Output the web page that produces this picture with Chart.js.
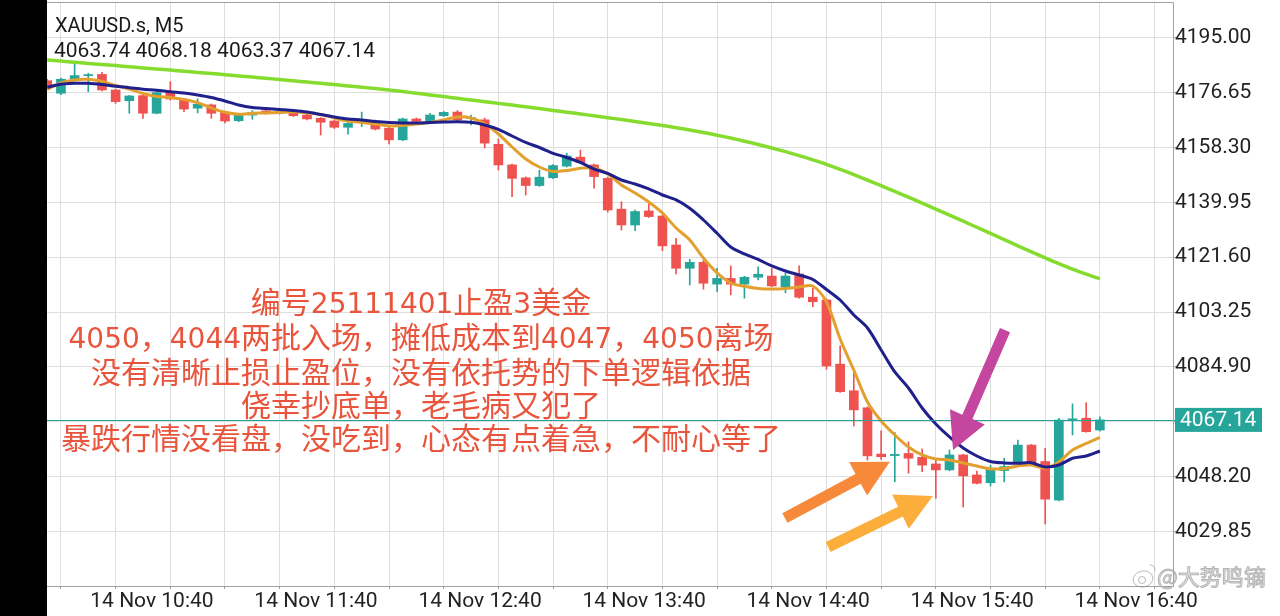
<!DOCTYPE html>
<html><head><meta charset="utf-8">
<script src="https://cdn.jsdelivr.net/npm/chart.js@4.4.1/dist/chart.umd.min.js"></script>
<style>html,body{margin:0;padding:0;background:#fff;overflow:hidden}#wrap{position:relative;width:1280px;height:616px}</style>
</head><body><div id="wrap"><canvas id="c" width="1280" height="616"></canvas></div>
<script>
const symbolTitle = 'XAUUSD.s, M5';
const firstCandleMinute = 605;   // 14 Nov 10:05
const barMinutes = 5;

const opens = [4180.7,4176.5,4181.4,4182.4,4182.8,4177.6,4174.0,4175.7,4169.8,4177.0,
4174.2,4171.5,4172.6,4170.0,4167.3,4169.2,4170.6,4169.8,4170.0,4169.2,
4168.1,4167.2,4165.1,4166.9,4167.2,4164.8,4160.9,4167.9,4167.0,4169.0,
4170.2,4168.0,4167.6,4159.4,4152.5,4148.2,4145.6,4148.2,4152.1,4155.1,
4152.5,4148.0,4137.7,4132.4,4137.1,4135.4,4125.7,4117.9,4119.9,4112.6,
4114.5,4112.6,4114.9,4115.3,4111.7,4116.0,4108.2,4107.3,4085.8,4076.9,
4071.2,4055.7,4055.2,4055.9,4054.6,4052.4,4050.4,4055.4,4048.7,4046.1,
4050.2,4052.8,4058.7,4053.2,4040.3,4067.0,4067.7,4063.74];
const highs = [4181.2,4181.6,4186.3,4183.2,4183.5,4177.9,4175.8,4176.0,4177.0,4180.4,
4174.6,4174.6,4172.9,4170.3,4169.4,4170.7,4170.9,4170.7,4170.3,4169.5,
4168.4,4167.5,4166.9,4170.2,4167.5,4165.1,4168.2,4168.2,4169.8,4170.4,
4170.7,4169.2,4168.2,4161.2,4152.8,4148.5,4150.8,4152.6,4156.4,4157.5,
4152.8,4148.4,4140.2,4137.4,4140.2,4135.7,4127.9,4120.9,4120.5,4117.9,
4118.7,4115.2,4118.4,4117.9,4116.3,4118.7,4111.2,4107.6,4091.9,4083.3,
4071.5,4063.5,4062.9,4059.8,4057.4,4054.3,4057.1,4055.7,4050.0,4052.0,
4054.3,4060.4,4059.0,4057.6,4067.7,4072.5,4072.9,4068.18];
const lows = [4177.9,4176.0,4180.9,4177.0,4177.3,4173.1,4169.8,4168.1,4169.6,4174.2,
4170.3,4169.9,4168.1,4166.6,4167.0,4167.8,4169.5,4169.5,4168.7,4167.6,
4162.5,4164.7,4162.8,4165.3,4164.2,4159.5,4160.6,4166.8,4166.7,4168.7,
4167.3,4165.9,4158.2,4150.8,4141.9,4142.4,4145.3,4147.9,4151.8,4153.0,
4144.7,4136.7,4130.7,4130.5,4134.9,4123.8,4116.0,4112.3,4110.9,4110.1,
4109.0,4107.9,4114.0,4111.7,4109.7,4107.9,4105.0,4084.1,4076.3,4065.1,
4053.7,4053.9,4046.4,4049.3,4049.8,4040.9,4050.1,4038.0,4045.7,4045.0,
4046.4,4052.5,4052.5,4032.3,4040.0,4062.1,4063.0,4063.37];
const closes = [4178.5,4181.2,4182.4,4182.7,4177.6,4173.7,4175.6,4169.8,4176.7,4174.6,
4171.2,4172.8,4169.8,4167.2,4169.1,4170.0,4169.8,4170.4,4169.0,4167.9,
4166.8,4165.1,4166.4,4167.2,4164.5,4160.9,4167.9,4167.1,4169.2,4170.1,
4167.6,4168.3,4159.8,4152.5,4148.0,4145.6,4148.4,4152.3,4155.5,4153.3,
4148.6,4137.4,4132.4,4136.9,4135.2,4125.4,4117.9,4119.9,4112.9,4114.5,
4112.6,4114.9,4115.9,4112.0,4115.3,4108.2,4106.7,4085.2,4076.6,4070.5,
4055.1,4054.8,4055.6,4054.3,4052.0,4050.4,4055.4,4048.4,4045.9,4051.0,
4051.5,4058.7,4052.8,4040.6,4067.1,4067.5,4063.2,4067.14];

const maFast = [4177.83,4179.93,4180.94,4181.17,4180.44,4179.10,4177.93,4176.42,4175.42,4175.08,
4174.41,4173.34,4171.57,4170.13,4169.46,4169.79,4169.89,4170.06,4170.33,4169.89,
4169.39,4168.22,4167.21,4166.71,4166.21,4165.54,4165.77,4166.21,4166.71,4167.55,
4168.55,4168.22,4166.21,4162.86,4158.51,4154.49,4151.81,4150.31,4150.64,4151.38,
4151.48,4149.47,4145.79,4143.11,4140.10,4136.41,4131.39,4127.37,4121.35,4116.33,
4112.98,4111.87,4111.14,4110.97,4111.14,4111.64,4111.97,4106.62,4094.23,4083.85,
4073.14,4066.78,4062.09,4058.07,4055.40,4054.06,4053.72,4052.72,4051.71,4050.71,
4050.88,4051.71,4052.05,4051.04,4053.05,4057.07,4059.25,4061.25];
const maMid = [4178.50,4179.53,4179.83,4179.83,4179.43,4178.83,4178.36,4177.83,4177.49,4176.99,
4176.59,4175.92,4175.08,4173.91,4172.57,4171.73,4171.40,4171.06,4170.73,4170.23,
4169.39,4168.55,4167.88,4167.55,4167.05,4166.71,4166.54,4166.54,4166.71,4166.88,
4166.98,4166.78,4165.87,4164.37,4162.19,4160.02,4158.34,4156.40,4154.99,4153.32,
4151.14,4149.64,4147.46,4146.12,4144.45,4142.44,4140.77,4137.99,4134.07,4129.62,
4125.03,4122.69,4120.85,4118.67,4117.00,4115.66,4114.15,4110.80,4107.29,4102.27,
4097.91,4090.55,4083.18,4077.83,4071.13,4065.77,4061.42,4057.74,4055.06,4053.22,
4052.72,4052.62,4052.82,4051.38,4052.05,4054.29,4055.06,4056.73];
const maSlow = [4187.63,4187.27,4186.86,4186.50,4186.13,4185.76,4185.36,4184.99,4184.62,4184.25,
4183.85,4183.48,4183.12,4182.71,4182.31,4181.91,4181.51,4181.11,4180.67,4180.27,
4179.83,4179.40,4178.96,4178.53,4178.06,4177.59,4177.06,4176.52,4175.95,4175.38,
4174.81,4174.24,4173.67,4173.11,4172.54,4171.97,4171.36,4170.76,4170.16,4169.56,
4168.95,4168.32,4167.68,4167.05,4166.38,4165.71,4164.97,4164.20,4163.36,4162.46,
4161.49,4160.45,4159.35,4158.17,4156.94,4155.63,4154.22,4152.72,4151.04,4149.27,
4147.43,4145.55,4143.64,4141.70,4139.73,4137.72,4135.71,4133.67,4131.63,4129.58,
4127.51,4125.43,4123.39,4121.38,4119.44,4117.60,4115.92,4114.38];

const yTicks = [4195.00,4176.65,4158.30,4139.95,4121.60,4103.25,4084.90,4066.55,4048.20,4029.85];
const timeLabels = ['14 Nov 10:40','14 Nov 11:40','14 Nov 12:40','14 Nov 13:40','14 Nov 14:40','14 Nov 15:40','14 Nov 16:40'];
const firstLabelMinute = 640;

const notes = [
  {text:'编号25111401止盈3美金', x:741.7, y:4106.6},
  {text:'4050，4044两批入场，摊低成本到4047，4050离场', x:741.7, y:4094.9},
  {text:'没有清晰止损止盈位，没有依托势的下单逻辑依据', x:741.7, y:4083.2},
  {text:'侥幸抄底单，老毛病又犯了', x:741.7, y:4072.1},
  {text:'暴跌行情没看盘，没吃到，心态有点着急，不耐心等了', x:741.7, y:4061.1}
];
const arrows = [
  {from:[955.3,4097.2], to:[936.3,4057.1], color:'#c4469e'},
  {from:[874.8,4034.3], to:[913.2,4053.1], color:'#f68a3a'},
  {from:[890.6,4024.6], to:[928.9,4041.7], color:'#fbae3c'}
];
const watermark = '@大势鸣镝';

const BULL = '#26a69a', BEAR = '#ef5350';
const xs = opens.map((_, i) => firstCandleMinute + i * barMinutes);
const last = closes.length - 1;
const header = opens[last].toFixed(2)+' '+highs[last].toFixed(2)+' '+lows[last].toFixed(2)+' '+closes[last].toFixed(2);
const colorOf = i => closes[i] >= opens[i] ? BULL : BEAR;

function drawArrow(ctx, x1, y1, x2, y2, shaft, headLen, headW, color){
  const dx=x2-x1, dy=y2-y1, len=Math.hypot(dx,dy), ux=dx/len, uy=dy/len, px=-uy, py=ux;
  const bx=x2-ux*headLen, by=y2-uy*headLen;
  ctx.fillStyle=color;
  ctx.beginPath();
  ctx.moveTo(x1+px*shaft/2, y1+py*shaft/2);
  ctx.lineTo(bx+px*shaft/2, by+py*shaft/2);
  ctx.lineTo(bx+px*headW/2, by+py*headW/2);
  ctx.lineTo(x2, y2);
  ctx.lineTo(bx-px*headW/2, by-py*headW/2);
  ctx.lineTo(bx-px*shaft/2, by-py*shaft/2);
  ctx.lineTo(x1-px*shaft/2, y1-py*shaft/2);
  ctx.closePath(); ctx.fill();
}

const LATIN_FONT = '28px "DejaVu Sans"', CJK_FONT = '30px "Noto Sans CJK SC"';
function drawMixed(ctx, text, cx, cy){
  const runs = text.match(/[\x20-\x7e]+|[^\x20-\x7e]+/g);
  const parts = runs.map(r => {
    const f = /^[\x20-\x7e]/.test(r) ? LATIN_FONT : CJK_FONT;
    ctx.font = f; return {r, f, w: ctx.measureText(r).width};
  });
  const total = parts.reduce((s,p)=>s+p.w, 0);
  let x = cx - total/2;
  ctx.textAlign='left'; ctx.textBaseline='alphabetic';
  parts.forEach(p => { ctx.font=p.f; ctx.fillText(p.r, x, cy+11); x += p.w; });
}

const chrome = {
  id:'chrome',
  beforeDraw(chart){
    const {ctx, chartArea:a} = chart;
    ctx.save();
    ctx.fillStyle='#fff'; ctx.fillRect(0,0,chart.width,chart.height);
    ctx.fillStyle='#000'; ctx.fillRect(0,0,a.left,chart.height);
    ctx.restore();
  },
  afterDatasetsDraw(chart){
    const {ctx, chartArea:a, scales} = chart;
    const y = Math.round(scales.y.getPixelForValue(closes[last])) + 0.5;
    ctx.save();
    ctx.strokeStyle=BULL; ctx.lineWidth=1;
    ctx.beginPath(); ctx.moveTo(a.left,y); ctx.lineTo(a.right+2,y); ctx.stroke();
    ctx.restore();
  },
  afterDraw(chart){
    const {ctx, chartArea:a, scales} = chart;
    const X = v => scales.x.getPixelForValue(v), Y = v => scales.y.getPixelForValue(v);
    ctx.save();
    // frame
    ctx.strokeStyle='#a0a0a0'; ctx.lineWidth=1;
    ctx.beginPath();
    ctx.moveTo(a.left, a.top+0.5); ctx.lineTo(a.right+0.5, a.top+0.5);
    ctx.lineTo(a.right+0.5, a.bottom+0.5); ctx.lineTo(a.left, a.bottom+0.5);
    ctx.stroke();
    // price box
    const py = Y(closes[last]);
    ctx.fillStyle=BULL; ctx.fillRect(a.right+2, py-12, 87, 24);
    ctx.fillStyle='#fff'; ctx.font='21px Roboto'; ctx.textBaseline='middle'; ctx.textAlign='left';
    ctx.fillText(closes[last].toFixed(2), a.right+7, py+1);
    // header
    ctx.fillStyle='#1a1a1a'; ctx.textBaseline='alphabetic';
    ctx.font='20px Roboto'; ctx.fillText(symbolTitle, 55, 32);
    ctx.font='21px Roboto'; ctx.fillText(header, 54, 57);
    // notes
    ctx.fillStyle='#e8553c';
    notes.forEach(n => drawMixed(ctx, n.text, X(n.x), Y(n.y)));
    // arrows
    arrows.forEach(r => drawArrow(ctx, X(r.from[0]), Y(r.from[1]), X(r.to[0]), Y(r.to[1]), 11, 36, 38, r.color));
    // watermark
    ctx.textAlign='left'; ctx.textBaseline='middle'; ctx.font='22px "Noto Sans CJK SC"';
    ctx.lineWidth=1; ctx.strokeStyle='rgba(140,140,140,0.6)'; ctx.fillStyle='rgba(228,228,228,0.8)';
    ctx.fillText(watermark, 1157, 577); ctx.strokeText(watermark, 1157, 577);
    ctx.beginPath(); ctx.ellipse(1143, 579, 10, 8, -0.2, 0, Math.PI*2); ctx.stroke();
    ctx.beginPath(); ctx.arc(1142, 580, 3.5, 0, Math.PI*2); ctx.stroke();
    ctx.beginPath(); ctx.arc(1150, 570, 5, -1.6, 0.2); ctx.stroke();
    ctx.restore();
  }
};

const candleWicks = {
  type:'bar', label:'wick', order:2, grouped:false, barThickness:1, minBarLength:1, borderWidth:0,
  data: xs.map((x,i)=>({x, y:[lows[i], highs[i]]})),
  backgroundColor: xs.map((_,i)=>colorOf(i))
};
const candleBodies = {
  type:'bar', label:'body', order:1, grouped:false, barThickness:9, minBarLength:1, borderWidth:0,
  data: xs.map((x,i)=>({x, y:[opens[i], closes[i]]})),
  backgroundColor: xs.map((_,i)=>colorOf(i))
};
const lineDs = (label, arr, color, w) => ({
  type:'line', label, order:0, data: xs.map((x,i)=>({x, y:arr[i]})),
  borderColor:color, borderWidth:w, pointRadius:0, tension:0.3, fill:false
});

new Chart(document.getElementById('c'), {
  type:'bar',
  data:{ datasets:[
    lineDs('MA slow', maSlow, '#86dc2e', 3.5),
    lineDs('MA mid', maMid, '#20208c', 3),
    lineDs('MA fast', maFast, '#e3a02f', 3),
    candleBodies, candleWicks
  ]},
  options:{
    responsive:false, animation:false, devicePixelRatio:1,
    layout:{padding:{left:47, top:2, right:0, bottom:0}},
    plugins:{legend:{display:false}, tooltip:{enabled:false}},
    scales:{
      x:{ type:'linear', min:604.9, max:1016.75, offset:false,
        afterFit(s){ s.height = 30; s.paddingLeft = 0; s.paddingRight = 0; },
        afterBuildTicks(s){ const t=[]; for(let v=620; v<=1000; v+=20) t.push({value:v}); s.ticks=t; },
        border:{display:false},
        grid:{color:'#dedede', borderDash:[4,4], tickLength:3, tickColor:'#a0a0a0', tickBorderDash:[]},
        ticks:{ autoSkip:false, maxRotation:0, padding:0, labelOffset:9, color:'#222', font:{family:'Roboto', size:21},
          callback(v){ const d=v-firstLabelMinute; return (d>=0 && d%60===0) ? (timeLabels[d/60]||'') : ''; } }
      },
      y:{ type:'linear', position:'right', min:4011.53, max:4207.05,
        afterFit(s){ s.width = 107; s.paddingTop = 0; s.paddingBottom = 0; },
        afterBuildTicks(s){ s.ticks = yTicks.map(v=>({value:v})); },
        border:{display:false},
        grid:{color:'#dedede', borderDash:[4,4], tickLength:4, tickColor:'#a0a0a0', tickBorderDash:[]},
        ticks:{ padding:-2, color:'#222', font:{family:'Roboto', size:21},
          callback(v){ return Math.abs(v-4066.55)<0.01 ? '' : v.toFixed(2); } }
      }
    }
  },
  plugins:[chrome]
});
</script></body></html>
